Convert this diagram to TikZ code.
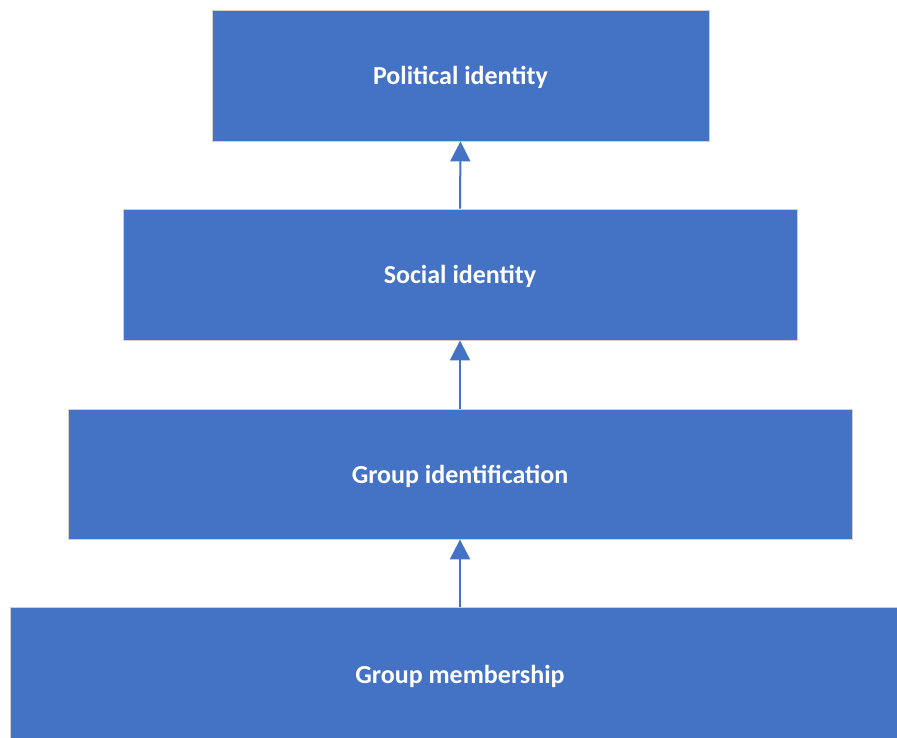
\documentclass[tikz,border=0pt]{standalone}
\usepackage{fontspec}
\setmainfont{Carlito}
\usepackage{xcolor}
\usetikzlibrary{arrows.meta}
\definecolor{boxblue}{HTML}{4472C4}

\begin{document}
\begin{tikzpicture}[x=1pt,y=-1pt,
  level/.style={rectangle,fill=boxblue,draw=black!18,line width=0.8pt,text=white,font=\bfseries\fontsize{26}{30}\selectfont,inner sep=0pt,text depth=0pt},
  up/.style={boxblue,line width=2pt,-{Triangle[width=20pt,length=20pt]}}]
\useasboundingbox (0,0) rectangle (897,737);
\clip (0,0) rectangle (897,737);
% the four levels, bottom one runs off the page
\node[level,minimum width=497pt,minimum height=131pt] (political) at (460.5,75.5) {Political identity};
\node[level,minimum width=674pt,minimum height=131pt] (social) at (460,274.5) {Social identity};
\node[level,minimum width=784pt,minimum height=130pt] (groupid) at (460,474) {Group identification};
\node[level,minimum width=900pt,minimum height=134pt] (member) at (460,674) {Group membership};
% arrows between levels
\draw[up] (member.north) -- (groupid.south);
\draw[up] (groupid.north) -- (social.south);
\draw[up] (social.north) -- (political.south);
\end{tikzpicture}
\end{document}
